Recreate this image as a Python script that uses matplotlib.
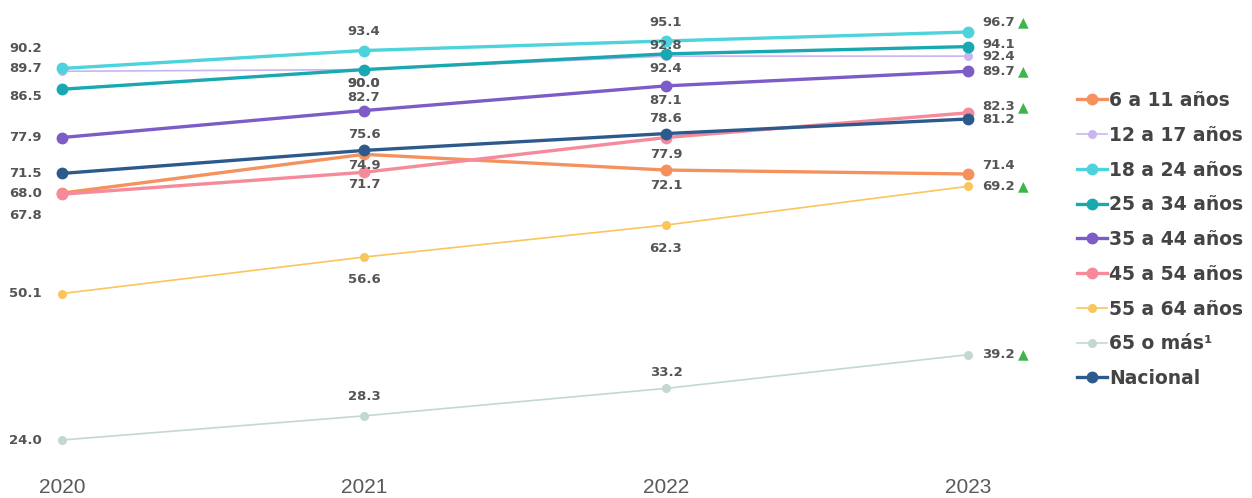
import matplotlib
matplotlib.use('Agg')
import matplotlib.pyplot as plt

# ---------------- data ----------------
years = [2020, 2021, 2022, 2023]
year_labels = ["2020", "2021", "2022", "2023"]
series_names = ["6 a 11 años", "12 a 17 años", "18 a 24 años", "25 a 34 años",
                "35 a 44 años", "45 a 54 años", "55 a 64 años", "65 o más¹", "Nacional"]
v_6_11 = [68.0, 74.9, 72.1, 71.4]
v_12_17 = [89.7, 90.0, 92.4, 92.4]
v_18_24 = [90.2, 93.4, 95.1, 96.7]
v_25_34 = [86.5, 90.0, 92.8, 94.1]
v_35_44 = [77.9, 82.7, 87.1, 89.7]
v_45_54 = [67.8, 71.7, 77.9, 82.3]
v_55_64 = [50.1, 56.6, 62.3, 69.2]
v_65 = [24.0, 28.3, 33.2, 39.2]
v_nacional = [71.5, 75.6, 78.6, 81.2]
significant_2023 = [False, False, True, False, True, True, True, True, False]

all_values = [v_6_11, v_12_17, v_18_24, v_25_34, v_35_44, v_45_54, v_55_64, v_65, v_nacional]

# ---------------- styles ----------------
colors = ["#F5915D", "#C9B5F0", "#4DD3DC", "#17A8B0", "#7C5CC6",
          "#F68A9A", "#F9C55C", "#C3D8D4", "#2D5A8C"]
thin = [False, True, False, False, False, False, True, True, False]
# vertical label offsets in pixels (positive = up) for each year
label_dy = [
    [0, -11, -15, 8],
    [3, -14, -12, 0],
    [20, 19, 18, 10],
    [-7, -14, 8, 2],
    [0, 13, -15, 0],
    [-21, -12, -17, 6],
    [0, -22, -23, 0],
    [0, 19, 16, 0],
    [0, 16, 15, -1],
]

W, H = 1252, 498
fig = plt.figure(figsize=(W / 100, H / 100), dpi=100)
ax = fig.add_axes([62 / W, 1 - 440 / H, (968 - 62) / W, (440 - 32) / H])
ax.set_xlim(years[0], years[-1])
ax.set_ylim(24.0, 96.7)

label_font = dict(family="DejaVu Sans", fontsize=9.5, fontweight="bold", color="#555555")

for i, (name, vals) in enumerate(zip(series_names, all_values)):
    if thin[i]:
        lw, ms = 1.2, 5.5
    else:
        lw, ms = 2.4, 7.5
    ax.plot(years, vals, color=colors[i], lw=lw, marker="o", ms=ms,
            markerfacecolor=colors[i], markeredgecolor=colors[i],
            label=name, clip_on=False, zorder=3 + (i == 8))
    for j, (x, y) in enumerate(zip(years, vals)):
        if j == 0:
            dx, ha = -20, "right"
        elif j == len(years) - 1:
            dx, ha = 14, "left"
        else:
            dx, ha = 0, "center"
        ax.annotate(f"{y:.1f}", (x, y), xytext=(dx, label_dy[i][j]),
                    textcoords="offset pixels", ha=ha, va="center",
                    annotation_clip=False, zorder=6, **label_font)
        if j == len(years) - 1 and significant_2023[i]:
            ax.annotate("▲", (x, y), xytext=(55, label_dy[i][j]),
                        textcoords="offset pixels", ha="center", va="center",
                        family="DejaVu Sans", fontsize=10, color="#3DB54A",
                        annotation_clip=False, zorder=6)

ax.set_xticks(years)
ax.set_xticklabels(year_labels, family="Liberation Sans", fontsize=15, color="#5A5A5A")
ax.tick_params(axis="x", length=0, pad=27)
ax.set_yticks([])
for s in ax.spines.values():
    s.set_visible(False)

leg = ax.legend(loc="upper left", bbox_to_anchor=(1077 / W, 1 - 91 / H),
                bbox_transform=fig.transFigure, frameon=False,
                prop=dict(family="DejaVu Sans", size=13.5, weight="bold"),
                handlelength=1.6, handletextpad=0.1, labelspacing=0.84,
                borderpad=0, borderaxespad=0)
for t in leg.get_texts():
    t.set_color("#444444")

fig.savefig("out.png", dpi=100)
